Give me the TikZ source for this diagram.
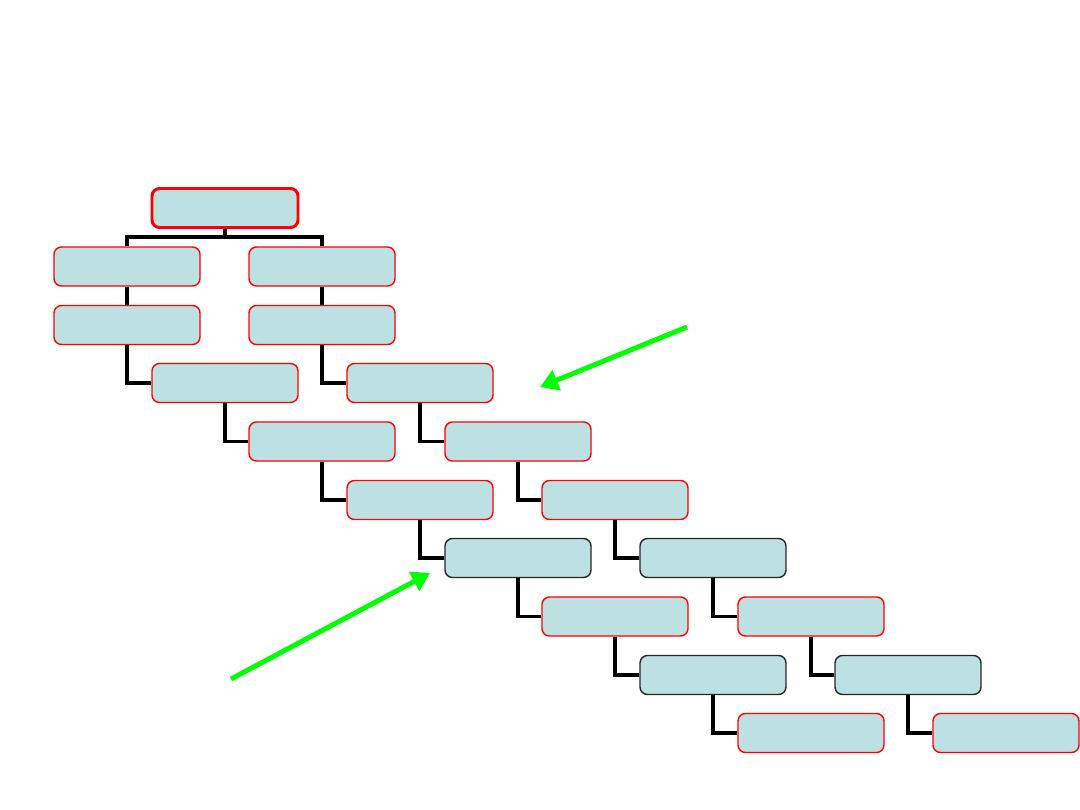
\documentclass[tikz,border=0pt]{standalone}
\usepackage{xcolor}
\usetikzlibrary{arrows.meta,positioning}
\definecolor{boxfill}{RGB}{189,224,226}
\definecolor{arrowgreen}{RGB}{0,255,0}

\begin{document}
\begin{tikzpicture}[box/.style={draw=red,line width=0.8pt,fill=boxfill,rounded corners=1.5mm,minimum width=29.2mm,minimum height=7.8mm},dark/.style={box,draw=black!85},link/.style={line width=2pt},hint/.style={-{Triangle[length=3.6mm,width=4.2mm]},line width=2.8pt,arrowgreen}]
\useasboundingbox (0,0) rectangle (21.6,-16.2);
% tree links
\coordinate (bus) at (4.50,-4.74);
\node[box,line width=1.7pt] (root) at (4.50,-4.16) {};
\node[box] (l1) at (2.54,-5.33) {};
\node[box] (r1) at (6.44,-5.33) {};
\node[box] (l2) at (2.54,-6.50) {};
\node[box] (r2) at (6.44,-6.50) {};
\node[box] (l3) at (4.50,-7.66) {};
\node[box] (r3) at (8.40,-7.66) {};
\node[box] (l4) at (6.44,-8.83) {};
\node[box] (r4) at (10.36,-8.83) {};
\node[box] (l5) at (8.40,-10.00) {};
\node[box] (r5) at (12.30,-10.00) {};
\node[dark] (l6) at (10.36,-11.16) {};
\node[dark] (r6) at (14.26,-11.16) {};
\node[box] (l7) at (12.30,-12.33) {};
\node[box] (r7) at (16.22,-12.33) {};
\node[dark] (l8) at (14.26,-13.50) {};
\node[dark] (r8) at (18.16,-13.50) {};
\node[box] (l9) at (16.22,-14.66) {};
\node[box] (r9) at (20.12,-14.66) {};
\draw[link](root.south)--(bus);
\draw[link](l1.north)|-(bus)-|(r1.north);
\draw[link](l1)--(l2);\draw[link](r1)--(r2);
\foreach \a/\b in {2/3,3/4,4/5,5/6,6/7,7/8,8/9}{
  \draw[link](l\a.south)|-(l\b.west);
  \draw[link](r\a.south)|-(r\b.west);
}
% pointers
\coordinate (p1) at (13.74,-6.54);
\coordinate (q1) at (10.80,-7.74);
\coordinate (p2) at (4.62,-13.58);
\coordinate (q2) at (8.60,-11.46);
\draw[hint](p1)--(q1);
\draw[hint](p2)--(q2);
\end{tikzpicture}
\end{document}
